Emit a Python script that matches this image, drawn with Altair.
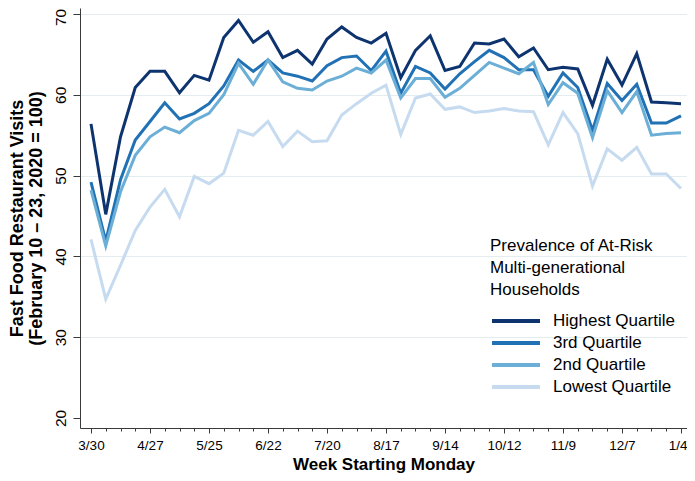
import json
import altair as alt
import pandas as pd

# ---- data ----
weeks = list(range(41))  # weekly, 3/30/2020 ... 1/4/2021
tick_labels = ["3/30", "4/27", "5/25", "6/22", "7/20", "8/17", "9/14",
               "10/12", "11/9", "12/7", "1/4"]
series_names = ["Highest Quartile", "3rd Quartile", "2nd Quartile", "Lowest Quartile"]
series_colors = ["#0e3470", "#2171b5", "#6baed6", "#c6dbef"]

highest = [56.4, 45.2, 54.8, 60.9, 62.9, 62.9, 60.25, 62.4, 61.8, 67.1, 69.2, 66.5, 67.8, 64.6,
           65.5, 63.8, 66.9, 68.4, 67.1, 66.4, 67.6, 62.1, 65.5, 67.3, 63.0, 63.5, 66.4, 66.3, 66.9,
           64.7, 65.8, 63.1, 63.4, 63.2, 58.7, 64.4, 61.2, 65.1, 59.1, 59.0, 58.9]
third = [49.2, 41.9, 49.5, 54.4, 56.7, 59.0, 57.0, 57.7, 58.9, 61.1, 64.3, 62.9, 64.3, 62.7,
         62.3, 61.7, 63.6, 64.6, 64.8, 63.0, 65.4, 60.2, 63.5, 62.7, 60.7, 62.6, 64.1, 65.5, 64.6,
         63.1, 63.1, 59.8, 62.7, 60.9, 55.6, 61.4, 59.3, 61.3, 56.5, 56.5, 57.4]
second = [48.2, 41.3, 48.0, 52.5, 54.8, 56.0, 55.3, 56.8, 57.7, 60.0, 63.9, 61.3, 64.3, 61.6,
          60.8, 60.6, 61.7, 62.3, 63.3, 62.7, 64.3, 59.6, 62.0, 62.0, 59.7, 60.8, 62.4, 64.0, 63.3,
          62.6, 64.0, 58.8, 61.5, 60.2, 54.7, 60.5, 57.8, 60.4, 55.0, 55.2, 55.3]
lowest = [42.1, 34.7, 38.9, 43.2, 46.1, 48.3, 44.9, 49.9, 49.0, 50.3, 55.6, 55.0, 56.7, 53.6,
          55.5, 54.2, 54.3, 57.5, 58.9, 60.2, 61.2, 55.1, 59.6, 60.1, 58.2, 58.5, 57.8, 58.0, 58.3,
          58.0, 57.9, 53.8, 57.8, 55.2, 48.7, 53.3, 51.9, 53.5, 50.2, 50.2, 48.4]
y_ticks = [20, 30, 40, 50, 60, 70]

rows = []
for name, vals in zip(series_names, [highest, third, second, lowest]):
    for w, v in zip(weeks, vals):
        rows.append({"week": w, "value": v, "group": name})
df = pd.DataFrame(rows)

FONT = "Liberation Sans"
label_expr = "datum.value % 4 === 0 ? " + json.dumps(tick_labels) + "[datum.value / 4] : ''"

chart = alt.Chart(df).mark_line(strokeWidth=3).encode(
    x=alt.X(
        "week:Q",
        scale=alt.Scale(domain=[-0.746, 40.407], nice=False, zero=False),
        axis=alt.Axis(
            values=weeks,
            labelExpr=label_expr,
            tickSize={"condition": {"test": "datum.value % 4 === 0", "value": 5}, "value": 3},
            labelAlign={"condition": {"test": "datum.value === 40", "value": "right"},
                        "value": "center"},
            labelOffset={"condition": {"test": "datum.value === 40", "value": 6}, "value": 0},
            labelPadding=5,
            labelFontSize=13.5,
            labelFlush=False,
            labelOverlap=False,
            grid=False,
            title="Week Starting Monday",
            titleFontSize=17,
            titleFontWeight="bold",
            titleBaseline="middle",
            titleY=36,
        ),
    ),
    y=alt.Y(
        "value:Q",
        scale=alt.Scale(domain=[18.76, 70.74], nice=False, zero=False),
        axis=alt.Axis(
            values=y_ticks,
            tickSize=7,
            labelAngle=270,
            labelAlign="center",
            labelBaseline="alphabetic",
            labelOffset={"condition": {"test": "datum.value === 70", "value": 3}, "value": 0},
            labelPadding=8,
            labelFontSize=15.5,
            labelFlush=False,
            grid=True,
            gridColor={"condition": {"test": "datum.value === 20", "value": "transparent"},
                       "value": "#e3edf0"},
            gridWidth=1.2,
            title=["Fast Food Restaurant Visits", "(February 10 \u2013 23, 2020 = 100)"],
            titleFontSize=18,
            titleFontWeight="bold",
            titleAngle=270,
            titleAlign="center",
            titleBaseline="middle",
            titleLineHeight=19,
            titleX=-63,
            titleY=210,
        ),
    ),
    color=alt.Color(
        "group:N",
        sort=series_names,
        scale=alt.Scale(domain=series_names, range=series_colors),
        legend=alt.Legend(
            title=["Prevalence of At-Risk", "Multi-generational", "Households"],
            orient="none",
            legendX=410,
            legendY=230,
            padding=0,
            titleFontSize=17,
            titleFontWeight="normal",
            titleLineHeight=22,
            titlePadding=8,
            titleLimit=0,
            labelFontSize=17,
            labelLimit=0,
            labelOffset=35,
            symbolType="M-1,0H3",
            symbolSize=576,
            symbolStrokeWidth=4,
            rowPadding=0,
        ),
    ),
).properties(
    width=607,
    height=420,
    autosize=alt.AutoSizeParams(type="none"),
    padding={"left": 72, "top": 0, "right": 0, "bottom": 45},
).configure(
    font=FONT,
    background="white",
).configure_view(
    stroke=None,
).configure_axis(
    domainColor="#3a3a3a",
    tickColor="#3a3a3a",
    labelColor="black",
    titleColor="black",
    labelFont=FONT,
    titleFont=FONT,
).configure_legend(
    labelFont=FONT,
    titleFont=FONT,
    labelColor="black",
    titleColor="black",
)

chart.save("out.html", embed_options={"renderer": "svg", "actions": False})
